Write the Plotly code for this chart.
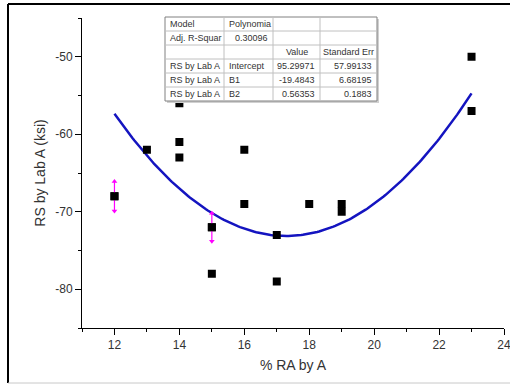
import numpy as np
import plotly.graph_objects as go

# ---- data ----
ra_pct = [12, 13, 14, 14, 14, 15, 15, 16, 16, 17, 17, 18, 19, 19, 23, 23]
rs_ksi = [-68, -62, -56, -61, -63, -72, -78, -62, -69, -73, -79, -69, -69, -70, -50, -57]

err_x = [12, 15]
err_y = [-68, -72]
err_val = [1.9, 1.8]

fit_coef = [95.29971, -19.4843, 0.56353]   # Intercept, B1, B2
fit_err = [57.99133, 6.68195, 0.1883]
adj_r2 = "0.30096"
fit_xmin, fit_xmax = 12, 23

x_ticks = [12, 14, 16, 18, 20, 22, 24]
y_ticks = [-80, -70, -60, -50]

table_rows = [
    ["Model", "Polynomia", "", ""],
    ["Adj. R-Squar", adj_r2, "", ""],
    ["", "", "Value", "Standard Err"],
    ["RS by Lab A", "Intercept", f"{fit_coef[0]:.5f}", f"{fit_err[0]}"],
    ["RS by Lab A", "B1", f"{fit_coef[1]:.4f}", f"{fit_err[1]}"],
    ["RS by Lab A", "B2", f"{fit_coef[2]:.5f}", f"{fit_err[2]}"],
]
# alignment for each cell: l = left, r = right, c = center
table_align = [
    "llll",
    "lrll",
    "llcc",
    "llrr",
    "llrr",
    "llrr",
]

# ---- layout geometry (pixels) ----
W, H = 510, 385
ML, MR, MT, MB = 82, 6, 18, 57
PW, PH = W - ML - MR, H - MT - MB


def px(x):
    return (x - ML) / PW


def py(y):
    return (H - MB - y) / PH


col_edges = [165, 224, 273, 320, 377]
row_edges = [17, 31, 45, 59, 73, 87, 101]

FONT = "Arial, Liberation Sans, sans-serif"
fig = go.Figure()

fx = np.linspace(fit_xmin, fit_xmax, 200)
fy = fit_coef[0] + fit_coef[1] * fx + fit_coef[2] * fx ** 2
fig.add_trace(go.Scatter(x=fx, y=fy, mode="lines",
                         line=dict(color="#1414c0", width=2.5),
                         hoverinfo="skip", showlegend=False))

fig.add_trace(go.Scatter(x=ra_pct, y=rs_ksi, mode="markers",
                         marker=dict(symbol="square", size=8, color="black"),
                         showlegend=False))

# error bars with arrow heads
fig.add_trace(go.Scatter(x=err_x, y=err_y, mode="markers",
                         marker=dict(symbol="square", size=8, color="black"),
                         error_y=dict(type="data", array=err_val, visible=True,
                                      color="#ff00ff", thickness=1.2, width=0),
                         showlegend=False))
fig.add_trace(go.Scatter(x=err_x, y=[y + e for y, e in zip(err_y, err_val)],
                         mode="markers",
                         marker=dict(symbol="triangle-up", size=5, color="#ff00ff"),
                         showlegend=False, hoverinfo="skip"))
fig.add_trace(go.Scatter(x=err_x, y=[y - e for y, e in zip(err_y, err_val)],
                         mode="markers",
                         marker=dict(symbol="triangle-down", size=5, color="#ff00ff"),
                         showlegend=False, hoverinfo="skip"))

shapes = [
    # outer frame of the picture
    dict(type="line", xref="paper", yref="paper", x0=px(8), x1=px(8), y0=py(383), y1=py(4),
         line=dict(color="black", width=2)),
    dict(type="line", xref="paper", yref="paper", x0=px(8), x1=px(512), y0=py(4), y1=py(4),
         line=dict(color="black", width=2)),
    dict(type="line", xref="paper", yref="paper", x0=px(8), x1=px(512), y0=py(383), y1=py(383),
         line=dict(color="#c8c8c8", width=1)),
    # table background + shadow
    dict(type="rect", xref="paper", yref="paper",
         x0=px(col_edges[0] + 2), x1=px(col_edges[-1] + 2),
         y0=py(row_edges[-1] + 2), y1=py(row_edges[0] + 2),
         fillcolor="#d0d0d0", line=dict(width=0), layer="above"),
    dict(type="rect", xref="paper", yref="paper",
         x0=px(col_edges[0]), x1=px(col_edges[-1]),
         y0=py(row_edges[-1]), y1=py(row_edges[0]),
         fillcolor="white", line=dict(color="#808080", width=1), layer="above"),
]
for ry in row_edges[1:-1]:
    shapes.append(dict(type="line", xref="paper", yref="paper",
                       x0=px(col_edges[0]), x1=px(col_edges[-1]), y0=py(ry), y1=py(ry),
                       line=dict(color="#c0c0c0", width=1), layer="above"))
for cx in col_edges[1:-1]:
    shapes.append(dict(type="line", xref="paper", yref="paper",
                       x0=px(cx), x1=px(cx), y0=py(row_edges[-1]), y1=py(row_edges[0]),
                       line=dict(color="#c0c0c0", width=1), layer="above"))

annotations = []
for i, row in enumerate(table_rows):
    yc = (row_edges[i] + row_edges[i + 1]) / 2
    for j, txt in enumerate(row):
        if not txt:
            continue
        a = table_align[i][j]
        if a == "l":
            xa, xanc = col_edges[j] + 3, "left"
        elif a == "r":
            xa, xanc = col_edges[j + 1] - 3, "right"
        else:
            xa, xanc = (col_edges[j] + col_edges[j + 1]) / 2, "center"
        annotations.append(dict(text=txt, xref="paper", yref="paper",
                                x=px(xa), y=py(yc), xanchor=xanc, yanchor="middle",
                                showarrow=False,
                                font=dict(family=FONT, size=9, color="#333")))

fig.update_layout(
    width=W, height=H,
    margin=dict(l=ML, r=MR, t=MT, b=MB),
    paper_bgcolor="white", plot_bgcolor="white",
    font=dict(family=FONT, size=12, color="#333"),
    showlegend=False,
    shapes=shapes,
    annotations=annotations,
)
fig.update_xaxes(range=[11, 24], tickvals=x_ticks, ticktext=[str(v) for v in x_ticks],
                 ticks="outside", ticklen=6, ticklabeloverflow="allow", automargin=False,
                 tickcolor="black", showline=True, linecolor="black", linewidth=1,
                 showgrid=False, zeroline=False,
                 minor=dict(dtick=1, tick0=11, ticks="outside", ticklen=3, tickcolor="black"),
                 tickfont=dict(size=12, color="#333"),
                 title=dict(text="% RA by A", font=dict(size=14, color="#333"), standoff=8))
fig.update_yaxes(range=[-85, -45], tickvals=y_ticks, ticktext=[str(v) for v in y_ticks],
                 ticks="outside", ticklen=6, automargin=False,
                 tickcolor="black", showline=True, linecolor="black", linewidth=1,
                 showgrid=False, zeroline=False,
                 minor=dict(dtick=5, tick0=-85, ticks="outside", ticklen=3, tickcolor="black"),
                 tickfont=dict(size=12, color="#333"),
                 title=dict(text="RS by Lab A (ksi)", font=dict(size=14, color="#333"), standoff=6))

fig.write_html("out.html")
